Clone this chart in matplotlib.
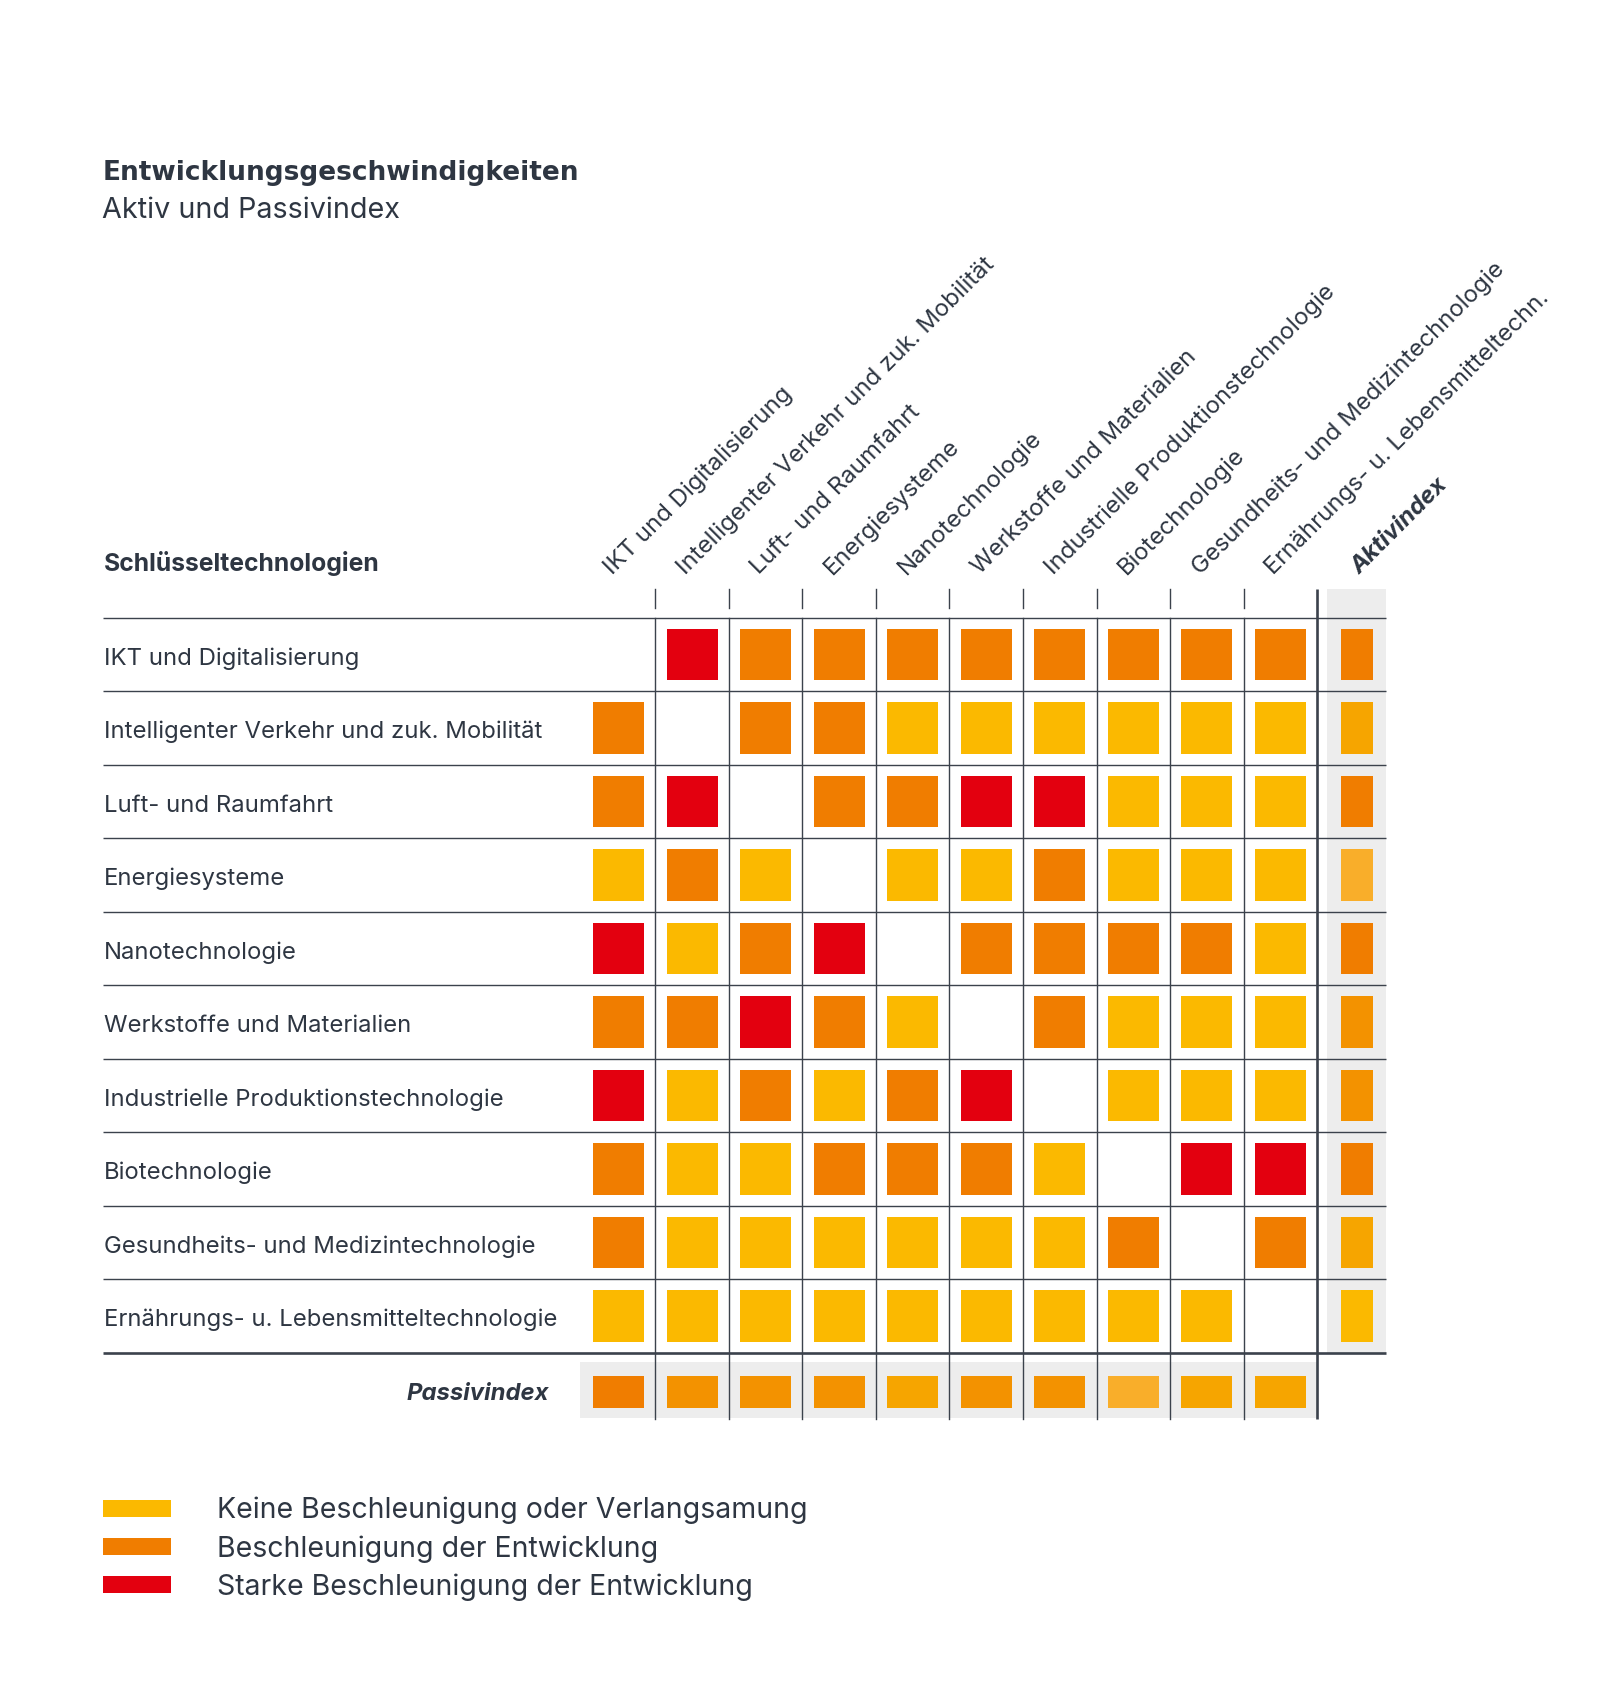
import matplotlib.pyplot as plt
from matplotlib.patches import Rectangle, Patch

plt.rcParams['font.family'] = ['Inter', 'DejaVu Sans']

# Schlüsseltechnologien (rows) and their short column labels
rows = ["IKT und Digitalisierung", "Intelligenter Verkehr und zuk. Mobilität",
        "Luft- und Raumfahrt", "Energiesysteme", "Nanotechnologie",
        "Werkstoffe und Materialien", "Industrielle Produktionstechnologie",
        "Biotechnologie", "Gesundheits- und Medizintechnologie",
        "Ernährungs- u. Lebensmitteltechnologie"]
cols = ["IKT und Digitalisierung", "Intelligenter Verkehr und zuk. Mobilität",
        "Luft- und Raumfahrt", "Energiesysteme", "Nanotechnologie",
        "Werkstoffe und Materialien", "Industrielle Produktionstechnologie",
        "Biotechnologie", "Gesundheits- und Medizintechnologie",
        "Ernährungs- u. Lebensmitteltechn."]

# 0 = diagonal (empty), 1 = keine, 2 = Beschleunigung, 3 = starke Beschleunigung
matrix = [
    [0, 3, 2, 2, 2, 2, 2, 2, 2, 2],
    [2, 0, 2, 2, 1, 1, 1, 1, 1, 1],
    [2, 3, 0, 2, 2, 3, 3, 1, 1, 1],
    [1, 2, 1, 0, 1, 1, 2, 1, 1, 1],
    [3, 1, 2, 3, 0, 2, 2, 2, 2, 1],
    [2, 2, 3, 2, 1, 0, 2, 1, 1, 1],
    [3, 1, 2, 1, 2, 3, 0, 1, 1, 1],
    [2, 1, 1, 2, 2, 2, 1, 0, 3, 3],
    [2, 1, 1, 1, 1, 1, 1, 2, 0, 2],
    [1, 1, 1, 1, 1, 1, 1, 1, 1, 0],
]

aktivindex = ["O", "YO", "O", "LO", "O", "OM", "OM", "O", "YO", "Y"]
passivindex = ["O", "OM", "OM", "OM", "YO", "OM", "OM", "LO", "YO", "YO"]

legend_labels = ["Keine Beschleunigung oder Verlangsamung",
                 "Beschleunigung der Entwicklung",
                 "Starke Beschleunigung der Entwicklung"]

level_colors = {1: "#FBB900", 2: "#F07D00", 3: "#E3000F"}
index_colors = {"Y": "#FBB900", "YO": "#F6A500", "LO": "#F9AE2A",
                "OM": "#F39200", "O": "#F07D00"}
txt = "#2E3642"
line = "#3B424C"
grey = "#EDEDED"

fig = plt.figure(figsize=(16, 17), dpi=100)
ax = fig.add_axes([0, 0, 1, 1])
cell = 73.5
gx, gy = 582, 617.7
ax.set_xlim(-gx / cell, (1600 - gx) / cell)
ax.set_ylim((1700 - gy) / cell, -gy / cell)
ax.axis("off")

n = len(rows)
sq = 0.7
isq = 0.435
akt_x = n + 0.545
pas_y = n + 0.535
bottom = n + 0.9
fs = 17.2

# grey backgrounds for the index column / row
ax.add_patch(Rectangle((n + 0.14, -0.39), 0.8, n + 0.39, color=grey, lw=0, zorder=0))
ax.add_patch(Rectangle((-0.03, n + 0.13), n + 0.03, 0.76, color=grey, lw=0, zorder=0))

# grid lines
for r in range(n + 1):
    ax.plot([-6.52, n + 0.94], [r, r], color=line,
            lw=1.9 if r == n else 1.0, zorder=1, solid_capstyle="butt")
for c in range(1, n):
    ax.plot([c, c], [-0.39, -0.13], color=line, lw=1.0, zorder=1)
    ax.plot([c, c], [0, bottom], color=line, lw=1.0, zorder=1)
ax.plot([n, n], [-0.39, bottom], color=line, lw=1.9, zorder=1, solid_capstyle="butt")

# matrix squares
for r, vals in enumerate(matrix):
    for c, v in enumerate(vals):
        if v:
            ax.add_patch(Rectangle((c + 0.5 - sq / 2, r + 0.5 - sq / 2), sq, sq,
                                   color=level_colors[v], lw=0, zorder=2))

for r, k in enumerate(aktivindex):
    ax.add_patch(Rectangle((akt_x - isq / 2, r + 0.5 - sq / 2), isq, sq,
                           color=index_colors[k], lw=0, zorder=2))
for c, k in enumerate(passivindex):
    ax.add_patch(Rectangle((c + 0.5 - sq / 2, pas_y - isq / 2), sq, isq,
                           color=index_colors[k], lw=0, zorder=2))

# labels
for r, name in enumerate(rows):
    ax.text(-6.5, r + 0.64, name, fontsize=fs, color=txt, va="baseline", ha="left")
for c, name in enumerate(cols):
    ax.text(c + 0.41, -0.58, name, fontsize=fs, color=txt, rotation=45,
            rotation_mode="anchor", ha="left", va="baseline")
ax.text(akt_x + 0.03, -0.58, "Aktivindex", fontsize=fs, color=txt, rotation=45,
        rotation_mode="anchor", ha="left", va="baseline",
        fontweight="bold", fontstyle="italic")
ax.text(-0.45, n + 0.64, "Passivindex", fontsize=fs, color=txt, ha="right",
        va="baseline", fontweight="bold", fontstyle="italic")
ax.text(-6.5, -0.64, "Schlüsseltechnologien", fontsize=17.8, color=txt,
        ha="left", va="baseline", fontweight="bold")

fig.text(103 / 1600, 1 - 180 / 1700, "Entwicklungsgeschwindigkeiten",
         fontsize=19, fontweight="bold", color=txt, va="baseline",
         family="DejaVu Sans")
fig.text(102 / 1600, 1 - 218 / 1700, "Aktiv und Passivindex",
         fontsize=20.7, color=txt, va="baseline")

handles = [Patch(color=level_colors[k], lw=0) for k in (1, 2, 3)]
fig.legend(handles, legend_labels, loc="upper left",
           bbox_to_anchor=(103 / 1600, 1 - 1497 / 1700), frameon=False,
           fontsize=20.5, handlelength=2.39, handleheight=0.53, handletextpad=1.6,
           labelspacing=0.37, borderpad=0, borderaxespad=0, labelcolor=txt)

fig.savefig("out.png", dpi=100, facecolor="white")
